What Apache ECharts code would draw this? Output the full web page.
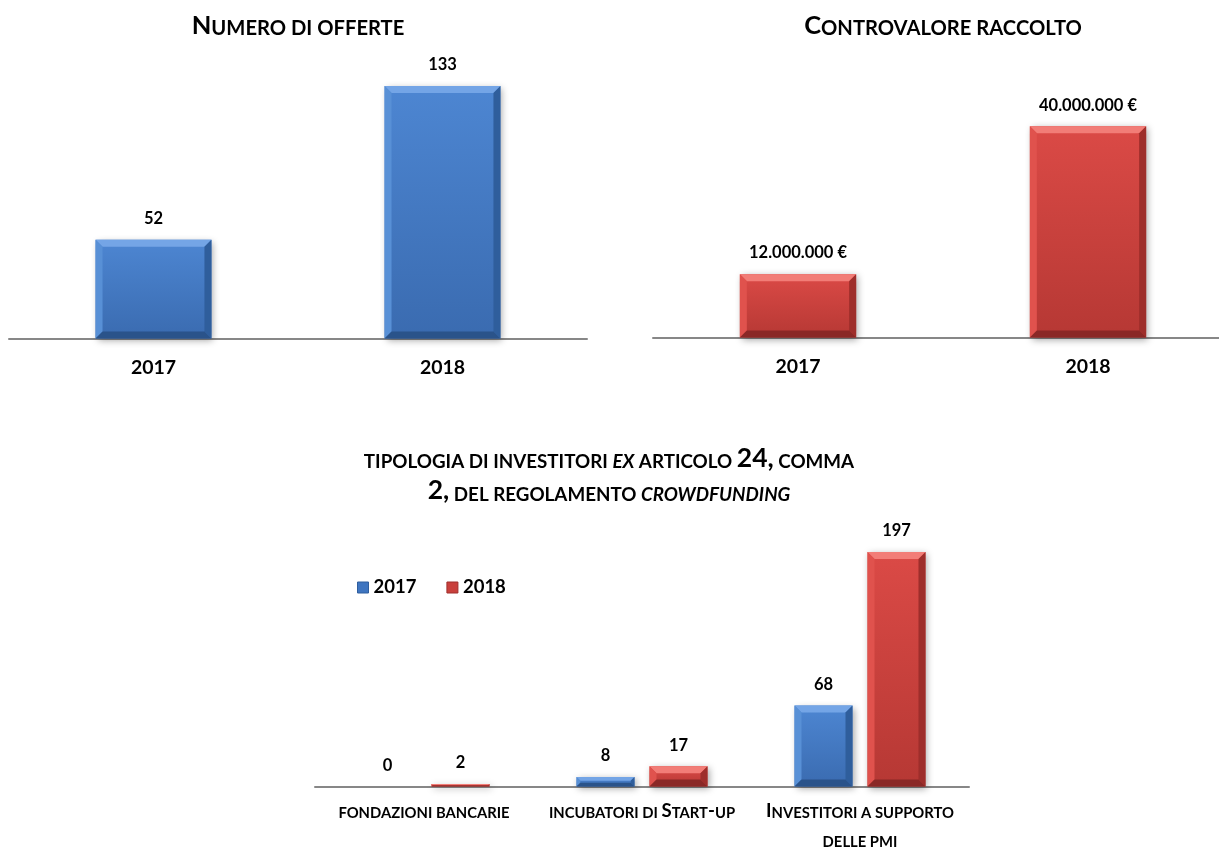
<!DOCTYPE html>
<html>
<head>
<meta charset="utf-8">
<script src="https://cdn.jsdelivr.net/npm/echarts@6/dist/echarts.min.js"></script>
<style>
  html, body { margin: 0; padding: 0; background: #ffffff; }
  #chart { width: 1219px; height: 847px; }
</style>
</head>
<body>
<div id="chart"></div>
<script>
// ---- data ----
const years = ['2017', '2018'];
const numeroOfferte = [52, 133];
const controvalore = [12000000, 40000000];
const tipologie = ['fondazioni bancarie', 'incubatori di Start-up', 'Investitori a supporto\ndelle pmi'];
const investitori2017 = [0, 8, 68];
const investitori2018 = [2, 17, 197];
const titoli = [
  'Numero di offerte',
  'Controvalore raccolto',
  'tipologia di investitori *ex* articolo 24, comma\n2, del regolamento *crowdfunding*'
];

// ---- styling helpers ----
const FONT = 'Lato';

const palettes = {
  blue: { face: ['#4d86d2', '#3a6bb0'], top: '#74a5e6', left: '#5890d6', right: '#2f5e9c', bottom: '#2a538a' },
  red:  { face: ['#db4a46', '#b63834'], top: '#f27d77', left: '#e0524d', right: '#9e2e2b', bottom: '#8a2826' }
};

// Small-caps look: lowercase letters become smaller capitals, the rest stays full size.
// Segments wrapped in *...* are set in italics.
function smallCaps(text) {
  return text.split('\n').map(function (line) {
    let out = '';
    line.split('*').forEach(function (seg, k) {
      const it = k % 2 === 1 ? 'i' : '';
      let run = '', cls = null;
      for (const ch of seg) {
        const c = (/[a-zà-ù ]/.test(ch)) ? 's' : 'b';
        if (c !== cls && run) { out += '{' + cls + it + '|' + run + '}'; run = ''; }
        cls = c;
        run += c === 's' ? ch.toUpperCase() : ch;
      }
      if (run) out += '{' + cls + it + '|' + run + '}';
    });
    return out;
  }).join('\n');
}

function capsRich(sSize, bSize, lineH) {
  const base = { fontFamily: FONT, fontWeight: 'bold', color: '#000000', verticalAlign: 'bottom' };
  return {
    s:  Object.assign({}, base, { fontSize: sSize, padding: [lineH - sSize, 0, 0, 0] }),
    b:  Object.assign({}, base, { fontSize: bSize, padding: [lineH - bSize, 0, 0, 0] }),
    si: Object.assign({}, base, { fontSize: sSize, fontStyle: 'italic', padding: [lineH - sSize, 0, 0, 0] }),
    bi: Object.assign({}, base, { fontSize: bSize, fontStyle: 'italic', padding: [lineH - bSize, 0, 0, 0] })
  };
}

function euro(v) {
  return String(Math.round(v)).replace(/\B(?=(\d{3})+(?!\d))/g, '.') + ' €';
}

// Bevelled bar drawn from the axis scales; widthRatio / offsetRatio are fractions of the category band.
function bevelBar(pal, widthRatio, offsetRatio, fmt, fontSize) {
  return function (params, api) {
    const idx = api.value(0);
    const val = api.value(1);
    const base = api.coord([idx, 0]);
    const tip = api.coord([idx, val]);
    const band = api.size([1, 0])[0];
    const w = band * widthRatio;
    const cx = base[0] + band * offsetRatio;
    const x0 = cx - w / 2, x1 = cx + w / 2;
    const y0 = tip[1], y1 = base[1];
    const h = y1 - y0;
    const children = [];
    if (h > 0.3) {
      const b = Math.min(7, h / 2.5, w / 4);
      children.push({
        type: 'rect',
        shape: { x: x0, y: y0, width: w, height: h },
        style: {
          fill: { type: 'linear', x: 0, y: 0, x2: 0, y2: 1,
            colorStops: [{ offset: 0, color: pal.face[0] }, { offset: 1, color: pal.face[1] }] },
          shadowBlur: 7, shadowOffsetX: 2, shadowOffsetY: 2, shadowColor: 'rgba(0,0,0,0.35)'
        }
      });
      const poly = function (pts, fill) { children.push({ type: 'polygon', shape: { points: pts }, style: { fill: fill } }); };
      poly([[x0, y0], [x1, y0], [x1 - b, y0 + b], [x0 + b, y0 + b]], pal.top);
      poly([[x0, y0], [x0 + b, y0 + b], [x0 + b, y1 - b], [x0, y1]], pal.left);
      poly([[x1, y0], [x1, y1], [x1 - b, y1 - b], [x1 - b, y0 + b]], pal.right);
      poly([[x0, y1], [x0 + b, y1 - b], [x1 - b, y1 - b], [x1, y1]], pal.bottom);
    }
    children.push({
      type: 'text',
      style: {
        text: fmt(val), x: cx, y: y0 - 21, align: 'center', verticalAlign: 'middle',
        fill: '#000000', fontFamily: FONT, fontWeight: 'bold', fontSize: fontSize
      }
    });
    return { type: 'group', children: children };
  };
}

const toPairs = function (arr) { return arr.map(function (v, i) { return [i, v]; }); };

const axisLineStyle = { show: true, lineStyle: { color: '#878787', width: 2 } };

const yearLabel = {
  interval: 0, margin: 19, color: '#000000',
  fontFamily: FONT, fontWeight: 'bold', fontSize: 19.5
};

const option = {
  animation: false,
  backgroundColor: '#ffffff',
  title: [
    { text: smallCaps(titoli[0]), left: 298, top: 11, textAlign: 'center', textVerticalAlign: 'top', padding: 0,
      textStyle: { rich: capsRich(20.2, 25.5, 27) } },
    { text: smallCaps(titoli[1]), left: 943, top: 11, textAlign: 'center', textVerticalAlign: 'top', padding: 0,
      textStyle: { rich: capsRich(20.2, 25.5, 27) } },
    { text: smallCaps(titoli[2]), left: 609, top: 439, textAlign: 'center', textVerticalAlign: 'top', padding: 0,
      textStyle: { rich: capsRich(18.8, 26.5, 32) } }
  ],
  legend: {
    left: 357, top: 578, padding: 0, itemWidth: 11, itemHeight: 11, itemGap: 30,
    textStyle: { fontFamily: FONT, fontWeight: 'bold', fontSize: 18.5, color: '#000000' },
    data: [
      { name: '2017', icon: 'rect', itemStyle: { color: '#3f75c0', borderColor: '#2f5e9e', borderWidth: 1 } },
      { name: '2018', icon: 'rect', itemStyle: { color: '#c9403c', borderColor: '#9f2f2c', borderWidth: 1 } }
    ]
  },
  grid: [
    { left: 9, top: 53.7, width: 578, height: 284.8, outerBoundsMode: 'none' },
    { left: 653, top: 73.5, width: 580, height: 264, outerBoundsMode: 'none' },
    { left: 315, top: 489, width: 654, height: 297.5, outerBoundsMode: 'none' }
  ],
  xAxis: [
    { type: 'category', gridIndex: 0, data: years, axisLine: axisLineStyle, axisTick: { show: false }, axisLabel: yearLabel },
    { type: 'category', gridIndex: 1, data: years, axisLine: axisLineStyle, axisTick: { show: false }, axisLabel: yearLabel },
    { type: 'category', gridIndex: 2, data: tipologie, axisLine: axisLineStyle, axisTick: { show: false },
      axisLabel: { interval: 0, margin: 5, formatter: function (v) { return smallCaps(v); }, rich: capsRich(14.8, 18.6, 29) } }
  ],
  yAxis: [
    { type: 'value', gridIndex: 0, min: 0, max: 150, show: false, splitLine: { show: false } },
    { type: 'value', gridIndex: 1, min: 0, max: 50000000, show: false, splitLine: { show: false } },
    { type: 'value', gridIndex: 2, min: 0, max: 250, show: false, splitLine: { show: false } }
  ],
  series: [
    { type: 'custom', name: 'Numero di offerte', xAxisIndex: 0, yAxisIndex: 0, clip: false,
      encode: { x: 0, y: 1 }, data: toPairs(numeroOfferte),
      renderItem: bevelBar(palettes.blue, 0.401, 0, function (v) { return String(v); }, 16.5) },
    { type: 'custom', name: 'Controvalore raccolto', xAxisIndex: 1, yAxisIndex: 1, clip: false,
      encode: { x: 0, y: 1 }, data: toPairs(controvalore),
      renderItem: bevelBar(palettes.red, 0.401, 0, euro, 16.5) },
    { type: 'custom', name: '2017', xAxisIndex: 2, yAxisIndex: 2, clip: false,
      itemStyle: { color: '#3f75c0' },
      encode: { x: 0, y: 1 }, data: toPairs(investitori2017),
      renderItem: bevelBar(palettes.blue, 0.266, -0.1674, function (v) { return String(v); }, 16.5) },
    { type: 'custom', name: '2018', xAxisIndex: 2, yAxisIndex: 2, clip: false,
      itemStyle: { color: '#c9403c' },
      encode: { x: 0, y: 1 }, data: toPairs(investitori2018),
      renderItem: bevelBar(palettes.red, 0.266, 0.1674, function (v) { return String(v); }, 16.5) }
  ]
};

const chart = echarts.init(document.getElementById('chart'), null, { renderer: 'canvas' });
chart.setOption(option);
</script>
</body>
</html>
